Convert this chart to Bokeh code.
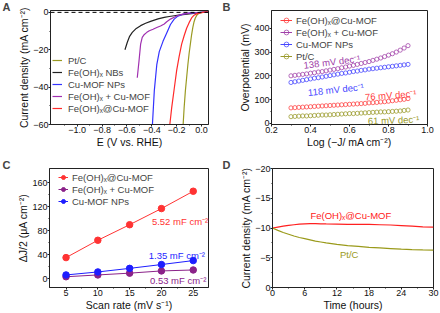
from bokeh.plotting import figure
from bokeh.layouts import row, column
from bokeh.models import (Range1d, Label, Legend, LegendItem, Span, FixedTicker,
                          CustomJSTickFormatter)
from bokeh.embed import file_html
from bokeh.resources import INLINE

FONT = "Liberation Sans"
X = "\u2093"

# ---------------- Panel A: polarization curves ----------------
a_labels = ["Pt/C", f"Fe(OH){X} NBs", "Cu-MOF NPs", f"Fe(OH){X} + Cu-MOF", f"Fe(OH){X}@Cu-MOF"]
a_colors = ["#9A9A22", "#222222", "#3333FF", "#A030B0", "#FF2A2A"]

a_ptc_E = [0.05, 0.03, 0.01, 0.0, -0.01, -0.02, -0.03, -0.04, -0.05, -0.06, -0.07, -0.08,
           -0.09, -0.10, -0.11, -0.12, -0.13, -0.14, -0.148]
a_ptc_J = [0.3, 0.1, 0.0, -0.1, -0.2, -0.5, -1.0, -1.8, -3.0, -5.0, -8.0, -12, -17, -22,
           -28, -35, -42, -51, -60]
a_nbs_E = [0.05, 0.0, -0.05, -0.115, -0.17, -0.22, -0.26, -0.30, -0.35, -0.41, -0.45, -0.49,
           -0.525, -0.557, -0.58, -0.597, -0.616]
a_nbs_J = [0.2, 0.0, -0.4, -0.9, -1.3, -1.8, -2.2, -2.7, -3.5, -4.8, -5.8, -7.1, -8.6,
           -10.7, -13, -16, -20]
a_mof_E = [0.05, 0.0, -0.05, -0.10, -0.13, -0.16, -0.19, -0.22, -0.25, -0.28, -0.31, -0.34,
           -0.36, -0.38, -0.395]
a_mof_J = [0.2, 0.0, -0.2, -0.4, -0.7, -1.2, -2.0, -3.6, -6.5, -11, -15.5, -21, -28, -42, -60]
a_mix_E = [0.05, 0.0, -0.05, -0.10, -0.15, -0.195, -0.22, -0.25, -0.28, -0.30, -0.33, -0.36,
           -0.39, -0.42, -0.44, -0.46, -0.477, -0.49, -0.503, -0.517]
a_mix_J = [0.2, 0.0, -0.2, -0.4, -0.9, -1.8, -2.6, -3.6, -5.0, -6.2, -7.3, -8.1, -9.0, -9.8,
           -10.7, -11.8, -13.4, -17, -26, -35]
a_core_E = [0.05, 0.02, 0.0, -0.02, -0.04, -0.06, -0.08, -0.10, -0.12, -0.14, -0.16, -0.18,
            -0.20, -0.22, -0.24, -0.255]
a_core_J = [0.3, 0.1, -0.1, -0.4, -0.8, -1.5, -3.0, -5.5, -8.5, -12.5, -17, -23.5, -31, -41,
            -51, -60]

# ---------------- Panel B: Tafel ----------------
b_logj = [0.30, 0.32, 0.34, 0.36, 0.38, 0.40, 0.42, 0.44, 0.46, 0.48, 0.50, 0.52, 0.54, 0.56,
          0.58, 0.60, 0.62, 0.64, 0.66, 0.68, 0.70, 0.72, 0.74, 0.76, 0.78, 0.80, 0.82, 0.84,
          0.86, 0.88, 0.90]
b_core = [65, 66, 67, 68, 69, 70, 71, 72, 73, 74, 75, 76, 77, 78, 79, 80, 81, 82, 83, 84, 86,
          87, 88, 90, 91, 93, 95, 97, 99, 101, 104]
b_mix = [200, 202, 204, 206, 208, 211, 213, 216, 218, 221, 224, 227, 230, 234, 237, 241, 244,
         248, 252, 256, 260, 265, 270, 275, 281, 287, 293, 300, 308, 317, 327]
b_mof = [172, 175, 178, 181, 184, 187, 190, 192, 195, 198, 201, 204, 207, 210, 212, 215, 218,
         220, 223, 225, 228, 230, 232, 234, 236, 238, 240, 242, 244, 246, 248]
b_ptc = [28, 29, 30, 31, 31, 32, 33, 34, 35, 35, 36, 37, 38, 39, 40, 41, 41, 42, 43, 44, 45,
         46, 47, 48, 48, 49, 50, 51, 52, 54, 56]
b_labels = [f"Fe(OH){X}@Cu-MOF", f"Fe(OH){X} + Cu-MOF", "Cu-MOF NPs", "Pt/C"]
b_colors = ["#FF4040", "#A040A8", "#4646FF", "#9A9A2A"]
b_slopes = ["76 mV dec\u207b\u00b9", "138 mV dec\u207b\u00b9", "118 mV dec\u207b\u00b9", "61 mV dec\u207b\u00b9"]

# ---------------- Panel C: double-layer capacitance ----------------
c_rate = [5, 10, 15, 20, 25]
c_core = [35, 64, 90, 117, 146]
c_mix = [3, 6, 9, 12.7, 14.3]
c_mof = [6, 11, 17, 23.4, 30]
c_labels = [f"Fe(OH){X}@Cu-MOF", f"Fe(OH){X} + Cu-MOF", "Cu-MOF NPs"]
c_colors = ["#FF3333", "#8B2289", "#1E1EFF"]
c_caps = ["5.52 mF cm\u207b\u00b2", "0.53 mF cm\u207b\u00b2", "1.35 mF cm\u207b\u00b2"]

# ---------------- Panel D: stability ----------------
d_time = [0, 1, 2, 3, 4, 5, 6, 7, 8, 9, 10, 12, 14, 16, 18, 20, 22, 24, 26, 28, 30]
d_core = [-10.0, -10.15, -10.3, -10.45, -10.55, -10.65, -10.7, -10.72, -10.72, -10.7, -10.68,
          -10.65, -10.62, -10.6, -10.6, -10.55, -10.5, -10.4, -10.3, -10.2, -10.15]
d_ptc = [-10.0, -9.6, -9.25, -8.95, -8.65, -8.4, -8.2, -8.0, -7.8, -7.65, -7.5, -7.25, -7.05,
         -6.9, -6.75, -6.65, -6.55, -6.45, -6.38, -6.32, -6.27]
d_labels = [f"Fe(OH){X}@Cu-MOF", "Pt/C"]
d_colors = ["#FF2020", "#9A9A1A"]


def fmt(dec):
    return CustomJSTickFormatter(code=(
        "const s = Math.abs(tick).toFixed(%d);"
        "return (tick < -1e-9 ? '\\u2212' : '') + s;" % dec))


def make_fig(w, h, xr, yr, bl, br, bt, bb, letter):
    p = figure(width=w, height=h, x_range=Range1d(*xr), y_range=Range1d(*yr),
               output_backend="svg", toolbar_location=None,
               min_border_left=bl, min_border_right=br, min_border_top=bt,
               min_border_bottom=bb)
    p.grid.visible = False
    p.outline_line_color = "#222222"
    p.outline_line_width = 1
    p.title.text = letter
    p.title.text_font = FONT
    p.title.text_font_size = "11px"
    p.title.text_font_style = "bold"
    p.title.align = "left"
    p.title.offset = -(bl - 2)
    p.title.standoff = -4
    return p


def style(p, xt, xm, yt, ym, xd, yd, xlabel, ylabel):
    p.xaxis.ticker = FixedTicker(ticks=xt, minor_ticks=xm)
    p.yaxis.ticker = FixedTicker(ticks=yt, minor_ticks=ym)
    p.xaxis.formatter = fmt(xd)
    p.yaxis.formatter = fmt(yd)
    p.xaxis.axis_label = xlabel
    p.yaxis.axis_label = ylabel
    for ax in (p.xaxis[0], p.yaxis[0]):
        ax.axis_line_color = "#222222"
        ax.major_tick_line_color = "#222222"
        ax.minor_tick_line_color = "#222222"
        ax.major_tick_out = 2
        ax.major_tick_in = 0
        ax.minor_tick_out = 1
        ax.minor_tick_in = 0
        ax.major_label_text_font = FONT
        ax.major_label_text_font_size = "9px"
        ax.major_label_text_color = "#111111"
        ax.axis_label_text_font = FONT
        ax.axis_label_text_font_size = "10.5px"
        ax.axis_label_text_font_style = "normal"
        ax.axis_label_text_color = "#111111"
        ax.major_label_standoff = 0
        ax.axis_label_standoff = 0


def make_legend(p, items, loc, gw, standoff):
    leg = Legend(items=items, location=loc, glyph_width=gw, glyph_height=12,
                 label_height=12, label_standoff=standoff, spacing=0, padding=0,
                 margin=0, label_text_font=FONT, label_text_font_size="9.5px",
                 background_fill_alpha=0, border_line_alpha=0)
    p.add_layout(leg)


# ---- A ----
pA = make_fig(220, 155, (-1.215, 0.056), (-60, 1), 50, 12, 10, 30, "A")
style(pA, [-1.0, -0.8, -0.6, -0.4, -0.2, 0.0], [-1.1, -0.9, -0.7, -0.5, -0.3, -0.1],
      [-60, -40, -20, 0], [-50, -30, -10], 1, 0, "E (V vs. RHE)", "Current density (mA cm\u207b\u00b2)")
pA.add_layout(Span(location=0, dimension="width", line_color="black", line_dash="4 3",
                   line_width=1))
a_series = [(a_ptc_E, a_ptc_J), (a_nbs_E, a_nbs_J), (a_mof_E, a_mof_J), (a_mix_E, a_mix_J),
            (a_core_E, a_core_J)]
a_items = []
for (ex, jy), lab, col in zip(a_series, a_labels, a_colors):
    r = pA.line(ex, jy, line_color=col, line_width=1.2)
    a_items.append(LegendItem(label=lab, renderers=[r]))
make_legend(pA, a_items, (2, 10), 10, 6)

# ---- B ----
pB = make_fig(220, 155, (0.2, 1.0), (-5, 475), 51, 13, 10, 31, "B")
style(pB, [0.2, 0.4, 0.6, 0.8, 1.0], [0.3, 0.5, 0.7, 0.9], [0, 100, 200, 300, 400],
      [50, 150, 250, 350], 1, 0, "Log (\u2212J/ mA cm\u207b\u00b2)", "Overpotential (mV)")
b_items = []
for ys, lab, col in zip([b_core, b_mix, b_mof, b_ptc], b_labels, b_colors):
    sr = pB.scatter(b_logj, ys, size=4.2, marker="circle", fill_alpha=0, line_color=col,
                    line_width=0.9, line_alpha=0.85)
    lr = pB.line(b_logj, ys, line_color=col, line_width=1, visible=False)
    b_items.append(LegendItem(label=lab, renderers=[lr, sr]))
make_legend(pB, b_items, (9, 62), 12, 4)
for txt, col, x, y, ang in [(b_slopes[1], b_colors[1], 0.365, 244, 7),
                            (b_slopes[2], b_colors[2], 0.387, 130, 6),
                            (b_slopes[0], b_colors[0], 0.679, 111, 4),
                            (b_slopes[3], b_colors[3], 0.694, 10, 2)]:
    pB.add_layout(Label(x=x, y=y, text=txt, text_color=col, text_font=FONT,
                        text_font_size="9.5px", angle=ang, angle_units="deg",
                        text_baseline="alphabetic"))

# ---- C ----
pC = make_fig(220, 158, (2.4, 27.4), (-15, 184), 49, 12, 10, 23, "C")
style(pC, [5, 10, 15, 20, 25], [7.5, 12.5, 17.5, 22.5], [0, 40, 80, 120, 160],
      [20, 60, 100, 140], 0, 0, "Scan rate (mV s\u207b\u00b9)", "\u0394J/2 (\u03bcA cm\u207b\u00b2)")
c_items = []
for ys, lab, col in zip([c_core, c_mix, c_mof], c_labels, c_colors):
    lr = pC.line(c_rate, ys, line_color=col, line_width=1)
    sr = pC.scatter(c_rate, ys, size=6.5, marker="circle", fill_color=col, line_color=col)
    c_items.append(LegendItem(label=lab, renderers=[lr, sr]))
make_legend(pC, c_items, (9, 80), 10, 4)
for txt, col, x, y in [(c_caps[0], c_colors[0], 18.5, 95),
                       (c_caps[2], c_colors[2], 18.0, 39),
                       (c_caps[1], c_colors[1], 18.2, -4.1)]:
    pC.add_layout(Label(x=x, y=y, text=txt, text_color=col, text_font=FONT,
                        text_font_size="9.5px", text_baseline="alphabetic"))

# ---- D ----
pD = make_fig(220, 158, (0, 30), (0, -20), 52, 7, 13, 26, "D")
style(pD, [0, 6, 12, 18, 24, 30], [3, 9, 15, 21, 27], [-20, -15, -10, -5, 0],
      [-17.5, -12.5, -7.5, -2.5], 0, 0, "Time (hours)", "Current density (mA cm\u207b\u00b2)")
pD.line(d_time, d_core, line_color=d_colors[0], line_width=1.2)
pD.line(d_time, d_ptc, line_color=d_colors[1], line_width=1.2)
pD.add_layout(Label(x=14.6, y=-12.15, text=d_labels[0], text_color=d_colors[0], text_font=FONT,
                    text_font_size="9.5px", text_align="center", text_baseline="middle"))
pD.add_layout(Label(x=14.3, y=-5.55, text=d_labels[1], text_color=d_colors[1], text_font=FONT,
                    text_font_size="9.5px", text_align="center", text_baseline="middle"))

layout = column(row(pA, pB), row(pC, pD))
open("out.html", "w").write(file_html(layout, INLINE))
